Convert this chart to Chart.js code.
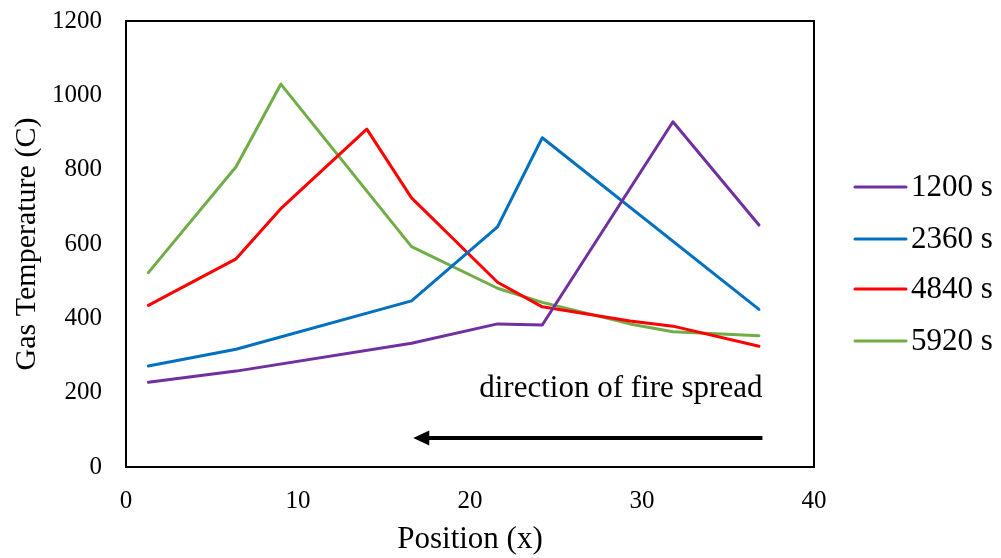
<!DOCTYPE html>
<html>
<head>
<meta charset="utf-8">
<script src="https://cdn.jsdelivr.net/npm/chart.js@4/dist/chart.umd.min.js"></script>
<style>
  html, body { margin: 0; padding: 0; background: #ffffff; }
  #wrap { width: 1001px; height: 558px; position: relative; }
  canvas { display: block; }
</style>
</head>
<body>
<div id="wrap"><canvas id="chart" width="1001" height="558"></canvas></div>
<script>
// Measurement positions along the compartment (x) and gas temperatures (C)
const positions = [1.3, 6.4, 9.0, 14.0, 16.6, 21.6, 24.2, 29.3, 31.8, 36.8];
const seriesLabels = ['1200 s', '2360 s', '4840 s', '5920 s'];
const temp1200 = [228, 258, null, null, 333, 385, 382, null, 929, 651];
const temp2360 = [272, 317, null, null, 447, 646, 886, null, null, 424];
const temp4840 = [435, 560, 695, 909, 724, 497, 431, 393, 379, 325];
const temp5920 = [523, 808, 1030, null, 593, 481, 443, 385, 364, 353];
const xTickValues = [0, 10, 20, 30, 40];
const yTickValues = [0, 200, 400, 600, 800, 1000, 1200];

// Annotation: arrow showing the direction of fire spread
const arrowFromX = 37.0;
const arrowToX = 16.7;
const arrowLevel = 78;
const noteText = 'direction of fire spread';
const noteLevel = 188;

const seriesColors = ['#7030A0', '#0070C0', '#FF0000', '#70AD47'];
const FONT = "'Liberation Serif', 'Times New Roman', serif";

function toPoints(values) {
  const pts = [];
  values.forEach((v, i) => { if (v !== null) pts.push({ x: positions[i], y: v }); });
  return pts;
}

const allSeries = [temp1200, temp2360, temp4840, temp5920];

const datasets = allSeries.map((vals, i) => ({
  label: seriesLabels[i],
  data: toPoints(vals),
  borderColor: seriesColors[i],
  backgroundColor: seriesColors[i],
  borderWidth: 3,
  pointRadius: 0,
  pointHoverRadius: 0,
  tension: 0,
  fill: false,
  borderCapStyle: 'round',
  borderJoinStyle: 'round'
}));

// Frame around the plot, the side legend and the arrow annotation
const extras = {
  id: 'extras',
  beforeDatasetsDraw(chart) {
    const { ctx, chartArea: a } = chart;
    ctx.save();
    ctx.strokeStyle = '#000000';
    ctx.lineWidth = 2;
    ctx.strokeRect(a.left, a.top, a.right - a.left, a.bottom - a.top);
    ctx.restore();
  },
  afterDraw(chart) {
    const { ctx, scales } = chart;
    const xs = scales.x, ys = scales.y;
    ctx.save();

    // annotation text
    ctx.fillStyle = '#000000';
    ctx.font = '31px ' + FONT;
    ctx.textAlign = 'right';
    ctx.textBaseline = 'alphabetic';
    ctx.fillText(noteText, xs.getPixelForValue(arrowFromX), ys.getPixelForValue(noteLevel));

    // arrow
    const ax1 = xs.getPixelForValue(arrowFromX);
    const ax2 = xs.getPixelForValue(arrowToX);
    const ay = ys.getPixelForValue(arrowLevel);
    ctx.strokeStyle = '#000000';
    ctx.lineWidth = 4;
    ctx.lineCap = 'butt';
    ctx.beginPath();
    ctx.moveTo(ax1, ay);
    ctx.lineTo(ax2 + 12, ay);
    ctx.stroke();
    ctx.beginPath();
    ctx.moveTo(ax2, ay);
    ctx.lineTo(ax2 + 16, ay - 7.5);
    ctx.lineTo(ax2 + 16, ay + 7.5);
    ctx.closePath();
    ctx.fillStyle = '#000000';
    ctx.fill();

    // legend
    const rowY = [187, 239, 289, 341];
    ctx.font = '31px ' + FONT;
    ctx.textAlign = 'left';
    ctx.textBaseline = 'middle';
    chart.data.datasets.forEach((ds, i) => {
      const y = rowY[i];
      ctx.strokeStyle = ds.borderColor;
      ctx.lineWidth = 3;
      ctx.lineCap = 'round';
      ctx.beginPath();
      ctx.moveTo(855, y);
      ctx.lineTo(906, y);
      ctx.stroke();
      ctx.fillStyle = '#000000';
      ctx.fillText(ds.label, 911, y + 1);
    });
    ctx.restore();
  }
};

new Chart(document.getElementById('chart'), {
  type: 'line',
  data: { datasets },
  options: {
    responsive: false,
    animation: false,
    devicePixelRatio: 1,
    layout: { padding: { top: 21, right: 187, bottom: 0, left: 0 } },
    plugins: { legend: { display: false }, tooltip: { enabled: false } },
    scales: {
      x: {
        type: 'linear',
        min: 0,
        max: 40,
        afterBuildTicks(scale) { scale.ticks = xTickValues.map(v => ({ value: v })); },
        afterFit(scale) { scale.height = 91; },
        grid: { display: false, drawTicks: false, tickLength: 0 },
        border: { display: false },
        ticks: {
          color: '#000000',
          font: { family: FONT, size: 25 },
          padding: 19,
          maxRotation: 0,
          callback: v => String(v)
        },
        title: {
          display: true,
          text: 'Position (x)',
          color: '#000000',
          font: { family: FONT, size: 31 },
          padding: { top: 0, bottom: 0 }
        }
      },
      y: {
        type: 'linear',
        min: 0,
        max: 1200,
        afterBuildTicks(scale) { scale.ticks = yTickValues.map(v => ({ value: v })); },
        afterFit(scale) {
          scale.width = 126;
          scale.paddingTop = 0;
          scale.paddingBottom = 0;
        },
        grid: { display: false, drawTicks: false, tickLength: 0 },
        border: { display: false },
        ticks: {
          color: '#000000',
          font: { family: FONT, size: 25 },
          padding: 24,
          callback: v => String(v)
        },
        title: {
          display: true,
          text: 'Gas Temperature (C)',
          color: '#000000',
          font: { family: FONT, size: 30 },
          padding: { top: 9, bottom: 0 }
        }
      }
    }
  },
  plugins: [extras]
});
</script>
</body>
</html>
